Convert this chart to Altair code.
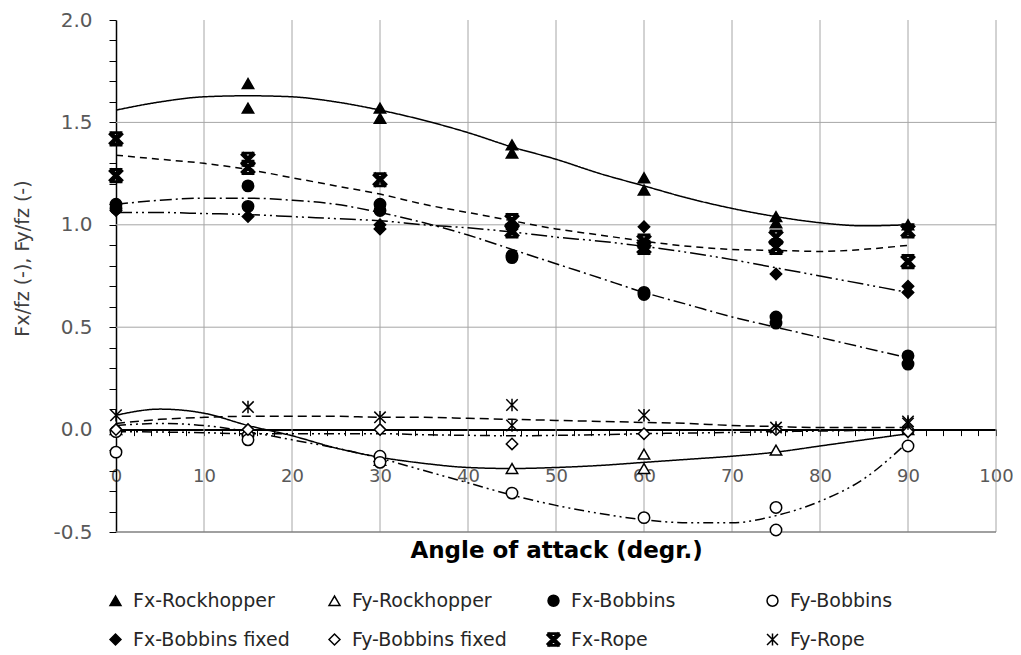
import altair as alt
import pandas as pd

# ---------------- data ----------------
series_names = ["Fx-Rockhopper", "Fy-Rockhopper", "Fx-Bobbins", "Fy-Bobbins",
                "Fx-Bobbins fixed", "Fy-Bobbins fixed", "Fx-Rope", "Fy-Rope"]

# measured points (angle, value)
fx_rock_x = [15, 15, 30, 30, 45, 45, 60, 60, 75, 75, 90]
fx_rock_y = [1.69, 1.57, 1.57, 1.52, 1.39, 1.35, 1.23, 1.17, 1.04, 1.01, 1.00]
fy_rock_x = [0, 15, 30, 30, 45, 60, 60, 75, 90]
fy_rock_y = [0.00, 0.00, -0.13, -0.15, -0.19, -0.12, -0.19, -0.10, 0.00]
fx_bob_x = [0, 0, 15, 15, 30, 30, 45, 45, 60, 60, 75, 75, 90, 90]
fx_bob_y = [1.10, 1.08, 1.19, 1.09, 1.10, 1.07, 0.85, 0.84, 0.67, 0.66, 0.55, 0.52, 0.36, 0.32]
fy_bob_x = [0, 0, 15, 15, 30, 30, 45, 60, 75, 75, 90]
fy_bob_y = [-0.01, -0.11, -0.03, -0.05, -0.13, -0.16, -0.31, -0.43, -0.38, -0.49, -0.08]
fx_bobf_x = [0, 15, 30, 30, 45, 60, 60, 75, 90, 90]
fx_bobf_y = [1.07, 1.04, 1.00, 0.98, 0.98, 0.99, 0.89, 0.76, 0.70, 0.67]
fy_bobf_x = [0, 15, 30, 45, 60, 75, 90]
fy_bobf_y = [0.00, 0.00, 0.00, -0.07, -0.02, 0.00, -0.01]
fx_rope_x = [0, 0, 15, 15, 30, 45, 45, 60, 60, 75, 75, 90, 90]
fx_rope_y = [1.42, 1.24, 1.32, 1.28, 1.22, 1.02, 0.97, 0.92, 0.89, 0.94, 0.89, 0.97, 0.82]
fy_rope_x = [0, 15, 30, 45, 45, 60, 75, 90, 90]
fy_rope_y = [0.07, 0.11, 0.06, 0.12, 0.02, 0.07, 0.01, 0.04, 0.03]

# trend curves at these angles
trend_x = [0, 5, 10, 15, 20, 25, 30, 35, 40, 45, 50, 55, 60, 65, 70, 75, 80, 85, 90]
tr_fx_rock = [1.56, 1.60, 1.625, 1.63, 1.625, 1.60, 1.56, 1.51, 1.45, 1.38, 1.32, 1.25, 1.19,
              1.13, 1.08, 1.04, 1.01, 0.995, 1.00]
tr_fy_rock = [0.07, 0.10, 0.08, 0.02, -0.03, -0.09, -0.135, -0.165, -0.185, -0.19, -0.185,
              -0.175, -0.16, -0.145, -0.13, -0.11, -0.08, -0.05, -0.02]
tr_fx_bob = [1.10, 1.12, 1.13, 1.13, 1.12, 1.10, 1.06, 1.01, 0.95, 0.88, 0.81, 0.74, 0.67,
             0.61, 0.55, 0.50, 0.45, 0.40, 0.35]
tr_fy_bob = [0.02, 0.03, 0.02, -0.01, -0.05, -0.09, -0.14, -0.20, -0.26, -0.32, -0.37, -0.41,
             -0.44, -0.455, -0.455, -0.42, -0.35, -0.24, -0.06]
tr_fx_bobf = [1.06, 1.06, 1.055, 1.05, 1.04, 1.03, 1.02, 1.00, 0.985, 0.965, 0.94, 0.92, 0.895,
              0.865, 0.83, 0.79, 0.75, 0.71, 0.67]
tr_fy_bobf = [-0.01, -0.012, -0.015, -0.02, -0.02, -0.02, -0.02, -0.025, -0.028, -0.03, -0.028,
              -0.025, -0.02, -0.017, -0.014, -0.01, -0.007, -0.004, 0.00]
tr_fx_rope = [1.34, 1.32, 1.30, 1.27, 1.23, 1.19, 1.15, 1.10, 1.06, 1.02, 0.98, 0.95, 0.92,
              0.895, 0.88, 0.875, 0.87, 0.88, 0.90]
tr_fy_rope = [0.03, 0.05, 0.06, 0.065, 0.065, 0.065, 0.06, 0.06, 0.055, 0.05, 0.045, 0.04,
              0.035, 0.03, 0.02, 0.015, 0.01, 0.01, 0.01]

grid_x = [10, 20, 30, 40, 50, 60, 70, 80, 90, 100]
grid_y = [0.5, 1.0, 1.5]
bottom_y = [-0.5]

# ---------------- tables ----------------
pts_x = [fx_rock_x, fy_rock_x, fx_bob_x, fy_bob_x, fx_bobf_x, fy_bobf_x, fx_rope_x, fy_rope_x]
pts_y = [fx_rock_y, fy_rock_y, fx_bob_y, fy_bob_y, fx_bobf_y, fy_bobf_y, fx_rope_y, fy_rope_y]
rows = []
for name, xs, ys in zip(series_names, pts_x, pts_y):
    for a, v in zip(xs, ys):
        rows.append({"series": name, "x": a, "y": v})
points_df = pd.DataFrame(rows)

trends = [tr_fx_rock, tr_fy_rock, tr_fx_bob, tr_fy_bob, tr_fx_bobf, tr_fy_bobf, tr_fx_rope, tr_fy_rope]

# ---------------- styling ----------------
FONT = "DejaVu Sans"
rope_fx_path = ("M-0.8,-1.2L1.2,0.8L0.8,1.2L-1.2,-0.8Z"
                "M1.2,-0.8L-0.8,1.2L-1.2,0.8L0.8,-1.2Z"
                "M-1,-1.2L1,-1.2L1,-0.95L-1,-0.95Z"
                "M-1,0.95L1,0.95L1,1.2L-1,1.2Z")
rope_fy_path = "M-1,-1L1,1M1,-1L-1,1M0,-1.1L0,1.1"
shapes = ["triangle-up", "triangle-up", "circle", "circle", "diamond", "diamond",
          rope_fx_path, rope_fy_path]
fills = ["black", "white", "black", "white", "black", "white", "black", "black"]
strokes = ["black"] * 8
dashes = [[1, 0], [1, 0], [12, 4, 2, 4], [10, 4, 2, 4, 2, 4], [16, 4, 2, 4, 2, 4],
          [10, 4, 2, 4, 2, 4], [7, 5], [9, 5]]

xscale = alt.Scale(domain=[0, 100], nice=False, zero=False)
yscale = alt.Scale(domain=[-0.5, 2.0], nice=False, zero=False)

x_axis = alt.Axis(
    values=list(range(0, 101, 2)),
    labelExpr="datum.value % 10 == 0 ? datum.label : ''",
    format="d", offset=-102.4, grid=False,
    domainColor="black", domainWidth=2, tickColor="black", tickSize=6, tickWidth=1,
    labelFont=FONT, labelFontSize=18, labelColor="#595959", labelPadding=32,
    labelFlush=False, labelOverlap=False,
    title="Angle of attack (degr.)", titleFont=FONT, titleFontSize=23,
    titleFontWeight="bold", titleColor="black", titleY=110, titleBaseline="top",
)
y_axis = alt.Axis(
    values=[round(-0.5 + 0.1 * i, 1) for i in range(26)],
    labelExpr="abs(datum.value*2 - round(datum.value*2)) < 0.001 ? "
              "((datum.value < 0 ? '-' : '') + format(abs(datum.value), '.1f')) : ''",
    grid=False, domainColor="black", domainWidth=1.5, tickColor="black", tickSize=7,
    tickWidth=1, labelFont=FONT, labelFontSize=20, labelColor="#595959", labelPadding=17,
    labelOverlap=False, labelFlush=False,
    title="Fx/fz (-), Fy/fz (-)", titleFont=FONT, titleFontSize=19,
    titleFontWeight="normal", titleColor="#404040", titleX=-84, titleY=238,
)

X = alt.X("x:Q", scale=xscale, axis=x_axis, title="Angle of attack (degr.)")
Y = alt.Y("y:Q", scale=yscale, axis=y_axis, title="Fx/fz (-), Fy/fz (-)")

vgrid = alt.Chart(pd.DataFrame({"x": grid_x})).mark_rule(color="#a6a6a6", strokeWidth=1).encode(x=X)
hgrid = alt.Chart(pd.DataFrame({"y": grid_y})).mark_rule(color="#a6a6a6", strokeWidth=1).encode(y=Y)
bottom = alt.Chart(pd.DataFrame({"y": bottom_y})).mark_rule(color="#808080", strokeWidth=1.5).encode(y=Y)

line_layers = []
for name, ys, dash in zip(series_names, trends, dashes):
    df = pd.DataFrame({"x": trend_x, "y": ys})
    line_layers.append(
        alt.Chart(df).mark_line(color="black", strokeWidth=1.5, interpolate="monotone",
                                strokeDash=dash).encode(x=X, y=Y)
    )

legend = alt.Legend(
    title=None, orient="none", legendX=-10, legendY=571, padding=0, columns=4,
    direction="horizontal", gridAlign="all", columnPadding=34, rowPadding=18,
    symbolSize=120, symbolStrokeColor="black", symbolStrokeWidth=1.5,
    labelFont=FONT, labelFontSize=19, labelColor="#262626", labelOffset=8, labelLimit=300,
)

pts = alt.Chart(points_df).mark_point(color="black", stroke="black", strokeWidth=1.5, opacity=1, size=130).encode(
    x=X, y=Y,
    shape=alt.Shape("series:N", scale=alt.Scale(domain=series_names, range=shapes), legend=legend),
    fill=alt.Fill("series:N", scale=alt.Scale(domain=series_names, range=fills), legend=legend),
    stroke=alt.Stroke("series:N", scale=alt.Scale(domain=series_names, range=strokes), legend=legend),
)

chart = alt.layer(vgrid, hgrid, bottom, *line_layers, pts).properties(
    width=880, height=512,
    padding={"left": 108, "top": 12, "right": 17, "bottom": 120},
    autosize=alt.AutoSizeParams(type="none"),
    background="white",
).configure_view(stroke=None)

chart.save("out.html", embed_options={"renderer": "svg", "actions": False})
